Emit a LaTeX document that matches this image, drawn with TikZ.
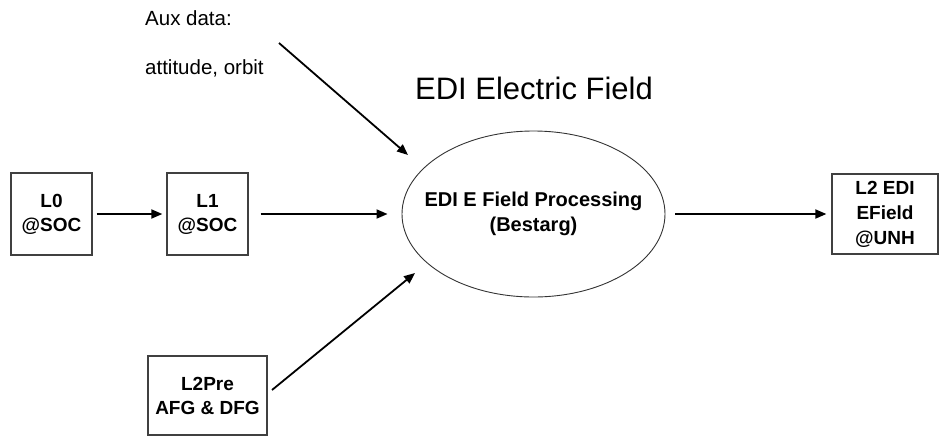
\documentclass[tikz,border=0pt]{standalone}
\usepackage{fontspec}
\setmainfont{Liberation Sans}
\usetikzlibrary{arrows.meta,shapes.geometric}
\begin{document}
\begin{tikzpicture}[x=1pt,y=-1pt,
  box/.style={draw=black!75,line width=1.3pt,rectangle,align=center,font=\fontsize{19}{24}\selectfont\bfseries,inner sep=0pt},
  arr/.style={line width=1.8pt,-{Triangle[length=11pt,width=9pt]}},
  lab/.style={font=\fontsize{20.5}{24}\selectfont,anchor=west,inner sep=0pt}]
\useasboundingbox (0,0) rectangle (939,437);
\node[box,minimum width=81pt,minimum height=82pt] (l0) at (51.5,214) {L0\\@SOC};
\node[box,minimum width=81pt,minimum height=82pt] (l1) at (207.5,214) {L1\\@SOC};
\node[box,minimum width=106pt,minimum height=80pt,font=\fontsize{19}{25}\selectfont\bfseries] (l2) at (885,214) {L2 EDI\\EField\\@UNH};
\node[box,minimum width=119pt,minimum height=79pt] (l2pre) at (207.5,395.5) {L2Pre\\AFG \& DFG};
\node[draw=black!80,line width=0.9pt,ellipse,minimum width=263pt,minimum height=166pt,inner sep=0pt] (e) at (533.5,214) {};
\node[align=center,font=\fontsize{20}{25}\selectfont\bfseries] (etext) at (e.center) {EDI E Field Processing\\(Bestarg)};
\node[font=\fontsize{31}{36}\selectfont] (title) at (534,88) {EDI Electric Field};
\node[lab] (aux1) at (145,18) {Aux data:};
\node[lab] (aux2) at (145,68) {attitude, orbit};
\coordinate (auxs) at (279,43);
\coordinate (auxe) at (408,155);
\coordinate (pres) at (272,390);
\coordinate (pree) at (415,273);
\draw[arr] (l0.east) ++(4,0) -- ([xshift=-4pt]l1.west);
\draw[arr] ([xshift=12pt]l1.east) -- ([xshift=-14pt]e.west);
\draw[arr] ([xshift=10pt]e.east) -- ([xshift=-5pt]l2.west);
\draw[arr] (auxs) -- (auxe);
\draw[arr] (pres) -- (pree);
\end{tikzpicture}
\end{document}
